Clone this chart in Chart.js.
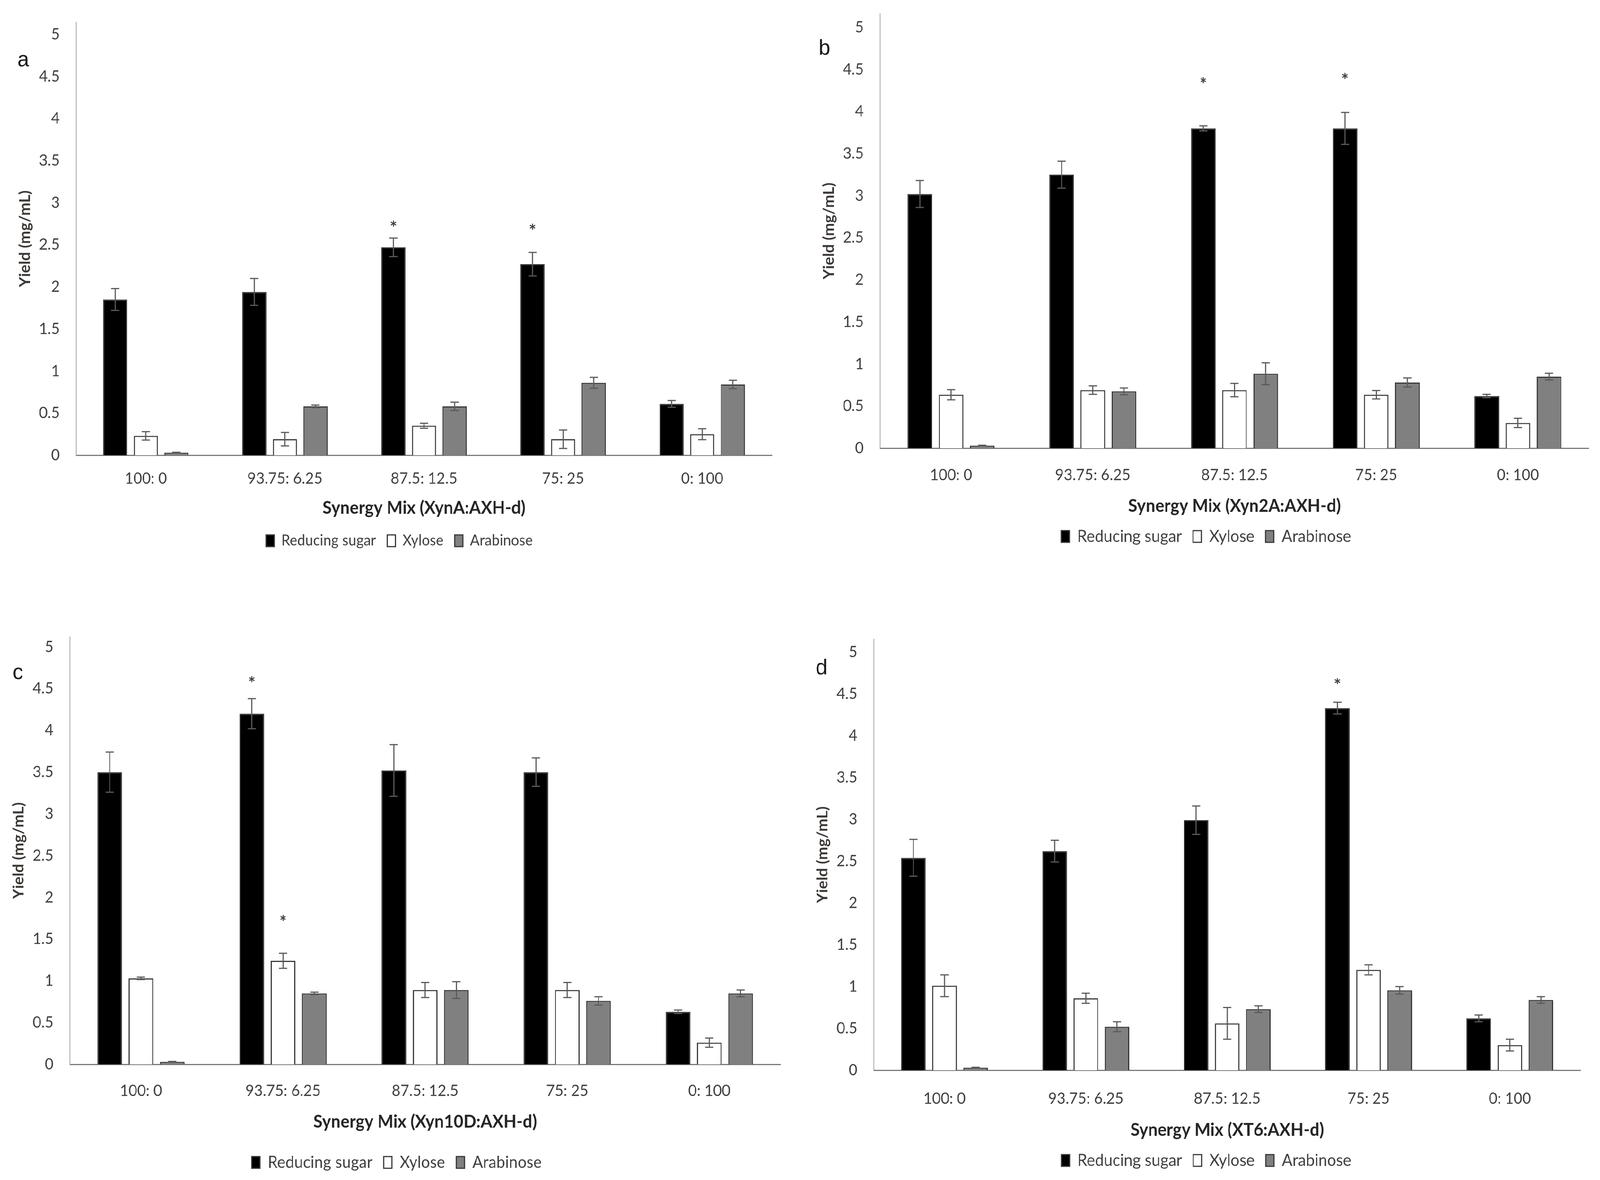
<!DOCTYPE html>
<html>
<head>
<meta charset="utf-8">
<script src="https://cdn.jsdelivr.net/npm/chart.js@4.4.1/dist/chart.umd.min.js"></script>
<style>
  html, body { margin: 0; padding: 0; background: #fff; overflow: hidden; }
  #page { position: absolute; left: 0; top: 0; width: 4279px; height: 3020px; transform-origin: 0 0; }
  canvas { position: absolute; }
</style>
</head>
<body>
<div id="page">
  <canvas id="panelA"></canvas>
  <canvas id="panelB"></canvas>
  <canvas id="panelC"></canvas>
  <canvas id="panelD"></canvas>
</div>
<script>
// the figure is laid out on a 4279 x 3020 sheet; squeeze it into whatever the window really is
var sx = window.innerWidth / 4279, sy = window.innerHeight / 3020;
document.getElementById('page').style.transform = 'scale(' + sx + ',' + sy + ')';

var categories = ['100: 0', '93.75: 6.25', '87.5: 12.5', '75: 25', '0: 100'];
var seriesNames = ['Reducing sugar', 'Xylose', 'Arabinose'];
var yTicks = [0, 0.5, 1, 1.5, 2, 2.5, 3, 3.5, 4, 4.5, 5];

// panel a  (XynA:AXH-d)
var sugarA = [1.85, 1.94, 2.47, 2.27, 0.61];
var sugarErrA = [0.13, 0.16, 0.11, 0.14, 0.04];
var xyloseA = [0.23, 0.19, 0.35, 0.19, 0.25];
var xyloseErrA = [0.05, 0.08, 0.03, 0.11, 0.065];
var arabA = [0.03, 0.58, 0.58, 0.86, 0.84];
var arabErrA = [0.005, 0.015, 0.05, 0.065, 0.05];
var starsA = [[0, 2, 2.74], [0, 3, 2.70]];   // [series, category, y]

// panel b  (Xyn2A:AXH-d)
var sugarB = [3.02, 3.25, 3.80, 3.80, 0.62];
var sugarErrB = [0.16, 0.16, 0.03, 0.19, 0.02];
var xyloseB = [0.635, 0.69, 0.69, 0.635, 0.30];
var xyloseErrB = [0.06, 0.05, 0.08, 0.05, 0.055];
var arabB = [0.03, 0.675, 0.885, 0.78, 0.85];
var arabErrB = [0.005, 0.04, 0.13, 0.055, 0.04];
var starsB = [[0, 2, 4.36], [0, 3, 4.41]];

// panel c  (Xyn10D:AXH-d)
var sugarC = [3.50, 4.20, 3.52, 3.50, 0.63];
var sugarErrC = [0.24, 0.18, 0.31, 0.17, 0.02];
var xyloseC = [1.03, 1.24, 0.89, 0.89, 0.26];
var xyloseErrC = [0.015, 0.09, 0.09, 0.09, 0.055];
var arabC = [0.03, 0.85, 0.89, 0.76, 0.85];
var arabErrC = [0.005, 0.015, 0.10, 0.05, 0.04];
var starsC = [[0, 1, 4.60], [1, 1, 1.74]];

// panel d  (XT6:AXH-d)
var sugarD = [2.54, 2.62, 2.99, 4.33, 0.62];
var sugarErrD = [0.22, 0.13, 0.17, 0.07, 0.04];
var xyloseD = [1.01, 0.86, 0.56, 1.20, 0.30];
var xyloseErrD = [0.13, 0.06, 0.19, 0.06, 0.07];
var arabD = [0.03, 0.52, 0.73, 0.955, 0.84];
var arabErrD = [0.005, 0.06, 0.04, 0.045, 0.04];
var starsD = [[0, 3, 4.64]];

Chart.defaults.font.family = 'Lato, "Open Sans", sans-serif';
Chart.defaults.color = '#404040';

var fills = ['#000000', '#ffffff', '#808080'];

// error bars, stars and the panel letter, placed with the chart's own scales
var extrasPlugin = {
  id: 'extras',
  afterDatasetsDraw: function(chart) {
    var ctx = chart.ctx;
    var y = chart.scales.y;
    var opts = chart.options.plugins.extras;
    ctx.save();
    ctx.strokeStyle = '#5a5a5a';
    ctx.lineWidth = 3;
    chart.data.datasets.forEach(function(ds, i) {
      var meta = chart.getDatasetMeta(i);
      meta.data.forEach(function(bar, j) {
        var v = ds.data[j], e = ds.errors[j];
        var top = y.getPixelForValue(v + e), bot = y.getPixelForValue(v - e);
        ctx.beginPath();
        ctx.moveTo(bar.x, top); ctx.lineTo(bar.x, bot);
        ctx.moveTo(bar.x - 11, top); ctx.lineTo(bar.x + 11, top);
        ctx.moveTo(bar.x - 11, bot); ctx.lineTo(bar.x + 11, bot);
        ctx.stroke();
      });
    });
    ctx.fillStyle = '#404040';
    ctx.font = 'bold 46px Lato, sans-serif';
    ctx.textAlign = 'center';
    ctx.textBaseline = 'middle';
    opts.stars.forEach(function(s) {
      var bar = chart.getDatasetMeta(s[0]).data[s[1]];
      ctx.fillText('*', bar.x, y.getPixelForValue(s[2]) + 9);
    });
    ctx.fillStyle = '#1a1a1a';
    ctx.font = '56px "Liberation Sans", Arial, sans-serif';
    ctx.fillText(opts.letter, chart.chartArea.left + opts.letterDx, chart.chartArea.top + opts.letterDy);
    ctx.restore();
  }
};

function createPanel(id, p) {
  var canvas = document.getElementById(id);
  var width = 180 + p.catWidth * 5 + 20;
  var height = 30 + (p.zeroY - p.topY) + p.xHeight + p.legendSize + 40;
  canvas.width = width;
  canvas.height = height;
  canvas.style.left = (p.axisX - 180) + 'px';
  canvas.style.top = (p.topY - 30) + 'px';
  var ctx = canvas.getContext('2d');

  var datasets = p.values.map(function(vals, i) {
    return {
      label: seriesNames[i],
      data: vals,
      errors: p.errors[i],
      backgroundColor: fills[i],
      borderColor: '#383838',
      borderWidth: 3,
      categoryPercentage: 0.66,
      barPercentage: 0.79
    };
  });

  // padLeft only nudges the legend; the y axis shrinks by the same amount
  return new Chart(ctx, {
    type: 'bar',
    data: { labels: categories, datasets: datasets },
    plugins: [extrasPlugin],
    options: {
      responsive: false,
      animation: false,
      devicePixelRatio: 1,
      layout: { padding: { top: 30, left: p.padLeft, right: 20, bottom: 0 } },
      plugins: {
        tooltip: { enabled: false },
        legend: {
          position: 'bottom',
          labels: { font: { size: p.legendSize }, boxWidth: 22, boxHeight: 30, padding: 30, color: '#404040' }
        },
        extras: { stars: p.stars, letter: p.letter, letterDx: p.letterDx, letterDy: p.letterDy }
      },
      scales: {
        x: {
          grid: { display: false, drawTicks: false },
          border: { color: '#7a7a7a', width: 3 },
          ticks: { padding: p.tickPad, font: { size: 40 }, maxRotation: 0, autoSkip: false },
          title: { display: true, text: p.xTitle, color: '#262626',
                   font: { size: 45, weight: 'bold' }, padding: { top: 0, bottom: p.titlePad } },
          afterFit: function(s) { s.height = p.xHeight; s.paddingLeft = 0; s.paddingRight = 0; }
        },
        y: {
          min: 0,
          max: p.yMax,
          grid: { display: false, drawTicks: false },
          border: { color: '#a6a6a6', width: 2 },
          afterBuildTicks: function(s) { s.ticks = yTicks.map(function(v) { return { value: v }; }); },
          ticks: { padding: 44, font: { size: 40 },
                   callback: function(v) { return String(Math.round(v * 10) / 10); } },
          title: { display: true, text: 'Yield (mg/mL)', color: '#3d3936',
                   font: { size: 40, weight: 'bold' }, padding: { top: 19 - p.padLeft, bottom: 0 } },
          afterFit: function(s) { s.width = 180 - p.padLeft; s.paddingTop = 0; s.paddingBottom = 0; }
        }
      }
    }
  });
}

createPanel('panelA', {
  values: [sugarA, xyloseA, arabA], errors: [sugarErrA, xyloseErrA, arabErrA], stars: starsA,
  xTitle: 'Synergy Mix (XynA:AXH-d)', letter: 'a', letterDx: -142, letterDy: 98,
  axisX: 204, catWidth: 372, padLeft: 48, topY: 57, zeroY: 1165, yMax: 5.144,
  tickPad: 36, xHeight: 170, titlePad: 8, legendSize: 38
});
createPanel('panelB', {
  values: [sugarB, xyloseB, arabB], errors: [sugarErrB, xyloseErrB, arabErrB], stars: starsB,
  xTitle: 'Synergy Mix (Xyn2A:AXH-d)', letter: 'b', letterDx: -149, letterDy: 90,
  axisX: 2354, catWidth: 379, padLeft: 28, topY: 35, zeroY: 1147, yMax: 5.163,
  tickPad: 45, xHeight: 175, titlePad: 0, legendSize: 42
});
createPanel('panelC', {
  values: [sugarC, xyloseC, arabC], errors: [sugarErrC, xyloseErrC, arabErrC], stars: starsC,
  xTitle: 'Synergy Mix (Xyn10D:AXH-d)', letter: 'c', letterDx: -139, letterDy: 93,
  axisX: 187, catWidth: 380, padLeft: 28, topY: 1630, zeroY: 2724, yMax: 5.12,
  tickPad: 44, xHeight: 200, titlePad: 26, legendSize: 42
});
createPanel('panelD', {
  values: [sugarD, xyloseD, arabD], errors: [sugarErrD, xyloseErrD, arabErrD], stars: starsD,
  xTitle: 'Synergy Mix (XT6:AXH-d)', letter: 'd', letterDx: -140, letterDy: 75,
  axisX: 2337, catWidth: 378, padLeft: 68, topY: 1636, zeroY: 2739, yMax: 5.154,
  tickPad: 49, xHeight: 180, titlePad: 0, legendSize: 42
});
</script>
</body>
</html>
